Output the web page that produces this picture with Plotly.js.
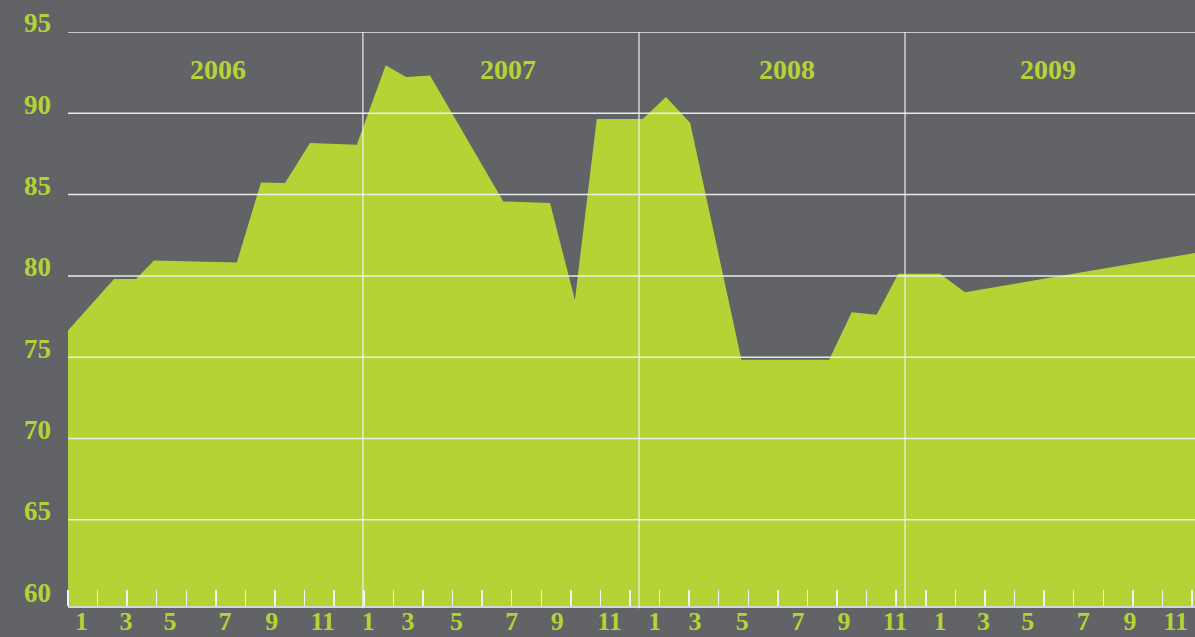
<!DOCTYPE html>
<html>
<head>
<meta charset="utf-8">
<script src="https://cdn.plot.ly/plotly-3.0.1.min.js"></script>
<style>
html,body{margin:0;padding:0;background:#626366;}
#chart{width:1195px;height:637px;}
</style>
</head>
<body>
<div id="chart"></div>
<script>
// ---- data (x in months from Jan 2006, as drawn) ----
const monthPos = [0, 1.96, 2.90, 3.66, 7.19, 8.22, 9.24, 10.31, 12.30, 13.53, 14.40, 15.42, 18.54, 20.53, 21.59, 22.52, 24.48, 25.47, 26.50, 28.68, 32.42, 33.38, 34.44, 35.36, 37.14, 38.20, 48.0];
const indexValues = [76.65, 79.81, 79.81, 80.95, 80.83, 85.75, 85.71, 88.17, 88.07, 92.95, 92.23, 92.33, 84.58, 84.48, 78.52, 89.65, 89.65, 91.0, 89.40, 74.84, 74.84, 77.76, 77.61, 80.14, 80.14, 78.99, 81.41];

const years = ['2006', '2007', '2008', '2009'];
const yearLabelPos = [6.39, 18.74, 30.62, 41.74];
const yearBoundaries = [12.56, 24.32, 35.65];

const monthLabels = ['1','3','5','7','9','11','1','3','5','7','9','11','1','3','5','7','9','11','1','3','5','7','9','11'];
const monthLabelPos = [0.58, 2.47, 4.34, 6.69, 8.68, 10.85, 12.79, 14.48, 16.55, 18.90, 20.84, 23.06, 24.99, 26.70, 28.72, 31.09, 33.05, 35.22, 37.14, 38.99, 40.88, 43.24, 45.23, 47.18];

const yTicks = [60, 65, 70, 75, 80, 85, 90, 95];

// ---- style ----
const BG = '#626366';
const GREEN = '#b5d334';
const FONT = 'Liberation Serif, Times New Roman, serif';
const X_RANGE = [0, 48];
const Y_RANGE = [59.7, 95];
const TICK_STEP = 1.2598; // spacing of small marks along the base
const tickMarks = [];
for (let k = 0; k * TICK_STEP <= X_RANGE[1] - 0.05; k++) tickMarks.push(+(k * TICK_STEP).toFixed(4));

const shapes = [];
yTicks.filter(v => v > 60).forEach(v => shapes.push({
  type: 'line', xref: 'paper', yref: 'y', x0: 0, x1: 1, y0: v, y1: v,
  line: {color: 'rgba(240,240,240,0.95)', width: 1.5}, layer: 'above'
}));
yearBoundaries.forEach(b => shapes.push({
  type: 'line', xref: 'x', yref: 'paper', x0: b, x1: b, y0: -0.004, y1: 1,
  line: {color: 'rgba(245,245,245,0.95)', width: 1.2}, layer: 'above'
}));

const annotations = years.map((yr, i) => ({
  x: yearLabelPos[i], y: 0.934, xref: 'x', yref: 'paper',
  text: yr, showarrow: false, xanchor: 'center', yanchor: 'middle',
  font: {family: FONT, size: 28, color: GREEN, weight: 'bold'}
}));

const trace = {
  x: monthPos, y: indexValues, type: 'scatter', mode: 'lines',
  fill: 'tozeroy', fillcolor: GREEN, line: {color: GREEN, width: 0},
  hoverinfo: 'skip', showlegend: false
};

const layout = {
  width: 1195, height: 637,
  margin: {l: 68, r: 0, t: 32, b: 31, pad: 0},
  paper_bgcolor: BG, plot_bgcolor: BG,
  showlegend: false,
  xaxis: {
    range: X_RANGE, showgrid: false, zeroline: false,
    tickmode: 'array', tickvals: monthLabelPos, ticktext: monthLabels,
    ticks: '', ticklabelstandoff: -9,
    tickfont: {family: FONT, size: 26, color: GREEN, weight: 'bold'},
    showline: true, linecolor: '#d4d4d4', linewidth: 2,
    layer: 'above traces',
    minor: {tickmode: 'array', tickvals: tickMarks, ticks: 'inside', ticklen: 16, tickcolor: '#f2f2f2', tickwidth: 1.5, showgrid: false}
  },
  yaxis: {
    range: Y_RANGE, showgrid: false, zeroline: false,
    tickmode: 'array', tickvals: yTicks, ticktext: yTicks.map(String),
    ticks: '', ticklabelshift: -9, ticklabelstandoff: 16,
    tickfont: {family: FONT, size: 27, color: GREEN, weight: 'bold'},
    showline: false
  },
  shapes: shapes,
  annotations: annotations
};

Plotly.newPlot('chart', [trace], layout, {displayModeBar: false, staticPlot: true});
</script>
</body>
</html>
